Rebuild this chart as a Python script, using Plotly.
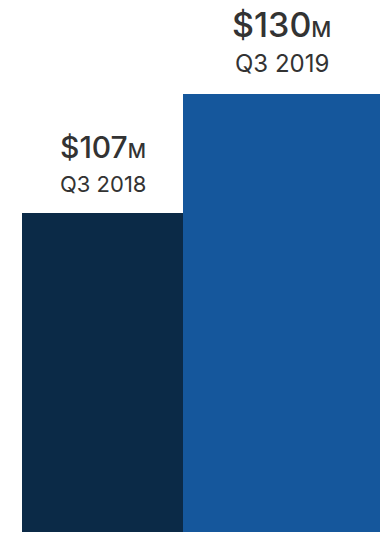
import plotly.graph_objects as go

# Quarterly revenue, in millions of dollars
quarters = ["Q3 2018", "Q3 2019"]
revenue_musd = [107, 130]
bar_colors = ["#0b2a47", "#15579c"]
bar_widths = [0.899, 1.101]
value_font_sizes = [30, 34]
unit_font_sizes = [20, 22]
quarter_font_sizes = [22, 24]
value_shifts = [46, 47]
quarter_shifts = [14, 14]

x_pos = list(range(len(quarters)))

fig = go.Figure(
    go.Bar(
        x=x_pos,
        y=revenue_musd,
        width=bar_widths,
        marker=dict(color=bar_colors, line=dict(width=0)),
        hoverinfo="skip",
    )
)

text_color = "#333333"
for i, (q, v) in enumerate(zip(quarters, revenue_musd)):
    fig.add_annotation(
        x=x_pos[i], y=v, xref="x", yref="y",
        text=q, showarrow=False, yanchor="bottom", yshift=quarter_shifts[i],
        font=dict(family="Inter", size=quarter_font_sizes[i], color=text_color),
    )
    fig.add_annotation(
        x=x_pos[i], y=v, xref="x", yref="y",
        text=f"${v}<span style='font-size:{unit_font_sizes[i]}px'>M</span>",
        showarrow=False, yanchor="bottom", yshift=value_shifts[i],
        font=dict(family="Inter", size=value_font_sizes[i], color=text_color, weight=500),
    )

fig.update_layout(
    width=382, height=534,
    margin=dict(l=0, r=0, t=0, b=2),
    paper_bgcolor="white", plot_bgcolor="white",
    showlegend=False,
    bargap=0,
    xaxis=dict(range=[-0.573, 1.561], visible=False, fixedrange=True),
    yaxis=dict(range=[45.6, 148.0], visible=False, fixedrange=True),
)

fig.write_html("out.html", config={"displayModeBar": False})
